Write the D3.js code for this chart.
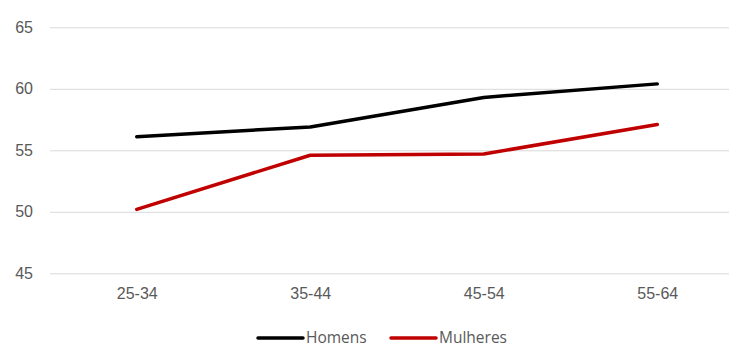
<!DOCTYPE html>
<html><head><meta charset="utf-8">
<script src="https://cdn.jsdelivr.net/npm/d3@7"></script>
<style>
body{margin:0;background:#fff;}
svg{display:block;font-family:"Open Sans","Liberation Sans",sans-serif;}
</style></head>
<body><div id="chart"></div>
<script>
const categories = ["25-34","35-44","45-54","55-64"];
const homens = [56.1, 56.9, 59.3, 60.4];
const mulheres = [50.2, 54.6, 54.7, 57.1];
const yTicks = [45, 50, 55, 60, 65];
const seriesNames = ["Homens","Mulheres"];
const seriesColors = ["#000000","#C00000"];

const W = 729, H = 347;
const svg = d3.select("#chart").append("svg").attr("width", W).attr("height", H);

const left = 50, right = 744;
const x = d3.scalePoint().domain(categories).range([left, right]).padding(0.5);
const y = d3.scaleLinear().domain([45, 65]).range([273.3, 27.3]);

const gy = svg.append("g").attr("transform", `translate(${left},0)`)
  .call(d3.axisLeft(y).tickValues(yTicks).tickSize(-(right-left)).tickPadding(17));
gy.select(".domain").remove();
gy.selectAll(".tick line").attr("stroke", "#d9d9d9").attr("stroke-width", 1);
gy.selectAll(".tick text").attr("fill", "#595959").style("font-size", "16px");

const gx = svg.append("g").attr("transform", `translate(0,273.3)`)
  .call(d3.axisBottom(x).tickSize(0).tickPadding(14.5));
gx.select(".domain").remove();
gx.selectAll(".tick text").attr("fill", "#595959").style("font-size", "16px");

const line = d3.line().x((d,i) => x(categories[i])).y(d => y(d));
[homens, mulheres].forEach((s, k) => {
  svg.append("path").datum(s).attr("d", line)
    .attr("fill", "none").attr("stroke", seriesColors[k])
    .attr("stroke-width", 3.5).attr("stroke-linejoin", "round").attr("stroke-linecap", "round");
});

const legX = [258, 391];
const leg = svg.append("g");
seriesNames.forEach((n, k) => {
  leg.append("line").attr("x1", legX[k]).attr("x2", legX[k] + 45)
    .attr("y1", 338).attr("y2", 338).attr("stroke", seriesColors[k]).attr("stroke-width", 3.5)
    .attr("stroke-linecap", "round");
  leg.append("text").attr("x", legX[k] + 48).attr("y", 342.5)
    .attr("fill", "#595959").style("font-size", "15.5px").text(n);
});
</script></body></html>
